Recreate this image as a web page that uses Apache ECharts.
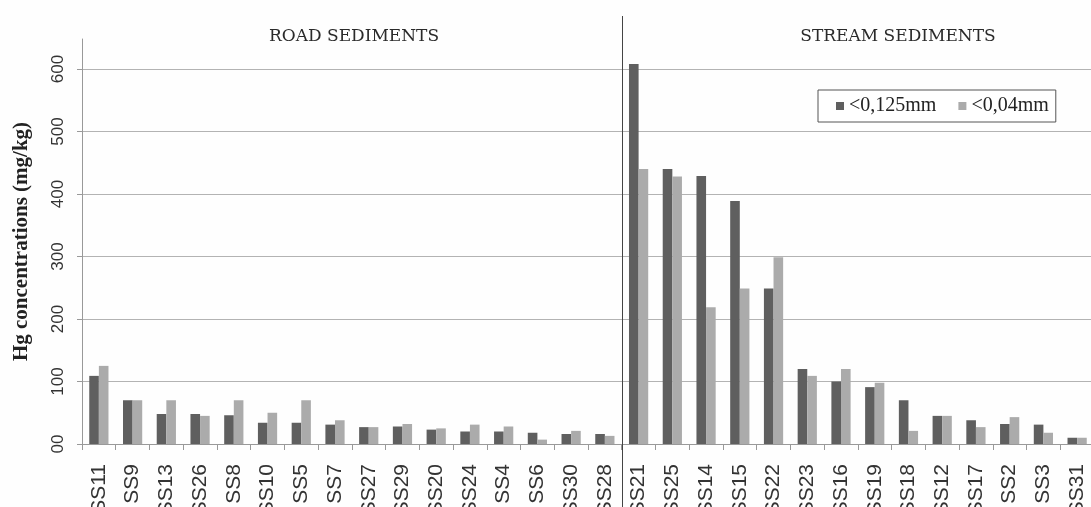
<!DOCTYPE html>
<html>
<head>
<meta charset="utf-8">
<title>Hg concentrations in road and stream sediments</title>
<script src="https://cdn.jsdelivr.net/npm/echarts@6/dist/echarts.min.js"></script>
<style>
  html, body { margin: 0; padding: 0; background: #fefefe; }
  #chart { width: 1091px; height: 507px; }
</style>
</head>
<body>
<div id="chart"></div>
<script>
// Sampling sites, ordered by decreasing Hg within each group
const roadSites = ['SS11', 'SS9', 'SS13', 'SS26', 'SS8', 'SS10', 'SS5', 'SS7', 'SS27', 'SS29', 'SS20', 'SS24', 'SS4', 'SS6', 'SS30', 'SS28'];
const streamSites = ['SS21', 'SS25', 'SS14', 'SS15', 'SS22', 'SS23', 'SS16', 'SS19', 'SS18', 'SS12', 'SS17', 'SS2', 'SS3', 'SS31'];
const categories = roadSites.concat(streamSites);

// Hg (mg/kg) in the <0,125 mm fraction
const hgFraction125 = [109, 70, 48, 48, 46, 34, 34, 31, 27, 28, 23, 20, 20, 18, 16, 16,
                       608, 440, 429, 389, 249, 120, 100, 91, 70, 45, 38, 32, 31, 10];
// Hg (mg/kg) in the <0,04 mm fraction
const hgFraction04 = [125, 70, 70, 45, 70, 50, 70, 38, 27, 32, 25, 31, 28, 7, 21, 13,
                      440, 428, 219, 249, 299, 109, 120, 98, 21, 45, 27, 43, 18, 10];

const seriesNames = ['<0,125mm', '<0,04mm'];
const groupTitles = ['ROAD SEDIMENTS', 'STREAM SEDIMENTS'];
const yTickValues = [0, 100, 200, 300, 400, 500, 600];
const yTickLabels = ['00', '100', '200', '300', '400', '500', '600'];

const chart = echarts.init(document.getElementById('chart'), null, { renderer: 'canvas' });

const titleStyle = { fontFamily: 'DejaVu Serif', fontSize: 17, fontWeight: 'normal', color: '#2a2a2a' };

chart.setOption({
  backgroundColor: '#fefefe',
  animation: false,
  title: [
    { text: groupTitles[0], left: 349, top: 23, textAlign: 'center', textStyle: titleStyle },
    { text: groupTitles[1], left: 893, top: 23, textAlign: 'center', textStyle: titleStyle }
  ],
  legend: {
    data: seriesNames,
    left: 818,
    top: 90,
    orient: 'horizontal',
    icon: 'rect',
    itemWidth: 8,
    itemHeight: 8,
    itemGap: 22,
    padding: [6, 7, 6, 18],
    borderColor: '#555',
    borderWidth: 1,
    backgroundColor: '#fff',
    textStyle: { fontFamily: 'Liberation Serif', fontSize: 20, color: '#222' }
  },
  grid: { left: 82, top: 39, width: 1012, height: 405, containLabel: false, outerBoundsMode: 'none' },
  xAxis: {
    type: 'category',
    data: categories,
    axisLine: { lineStyle: { color: '#999', width: 1 } },
    axisTick: { show: true, length: 6, lineStyle: { color: '#999' } },
    axisLabel: {
      interval: 0,
      rotate: 90,
      margin: 20,
      fontFamily: 'Liberation Sans',
      fontSize: 21,
      color: '#333'
    },
    splitLine: { show: false }
  },
  yAxis: {
    type: 'value',
    min: 0,
    max: 648,
    interval: 100,
    name: 'Hg concentrations (mg/kg)',
    nameLocation: 'middle',
    nameRotate: 90,
    nameGap: 50,
    nameTextStyle: { fontFamily: 'Liberation Serif', fontWeight: 'bold', fontSize: 21, color: '#222' },
    axisLine: { show: true, lineStyle: { color: '#999', width: 1 } },
    axisTick: { show: true, length: 5, lineStyle: { color: '#999' }, customValues: yTickValues },
    axisLabel: {
      rotate: 90,
      margin: 15,
      fontFamily: 'Liberation Sans',
      fontSize: 17,
      color: '#333',
      customValues: yTickValues,
      formatter: function (v) {
        const i = yTickValues.indexOf(v);
        return i >= 0 ? yTickLabels[i] : '';
      }
    },
    splitLine: { show: true, lineStyle: { color: '#b3b3b3', width: 1 } }
  },
  series: [
    {
      name: seriesNames[0],
      type: 'bar',
      data: hgFraction125,
      barGap: '0%',
      barCategoryGap: '43%',
      itemStyle: { color: '#5f5f5f' }
    },
    {
      name: seriesNames[1],
      type: 'bar',
      data: hgFraction04,
      barGap: '0%',
      barCategoryGap: '43%',
      itemStyle: { color: '#ababab' }
    }
  ]
});

// Vertical divider between the road and stream groups, placed on the category boundary
const lastRoad = chart.convertToPixel({ xAxisIndex: 0 }, roadSites[roadSites.length - 1]);
const firstStream = chart.convertToPixel({ xAxisIndex: 0 }, streamSites[0]);
const dividerX = Math.round((lastRoad + firstStream) / 2) + 0.5;
chart.setOption({
  graphic: [{
    type: 'line',
    z: 10,
    shape: { x1: dividerX, y1: 16, x2: dividerX, y2: 507 },
    style: { stroke: '#444', lineWidth: 1 }
  }]
});
</script>
</body>
</html>
